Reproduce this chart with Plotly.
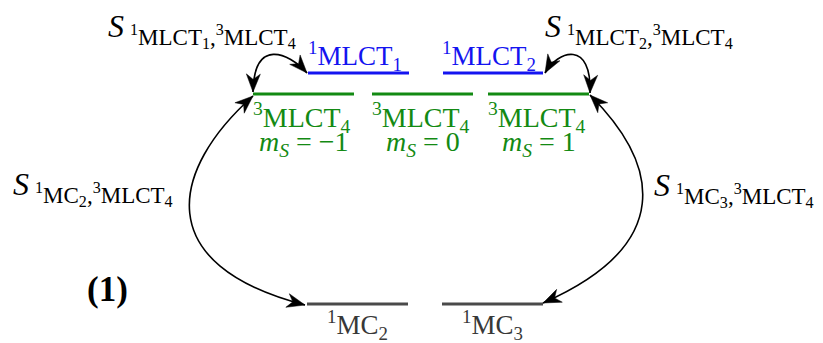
import numpy as np
import plotly.graph_objects as go

# ---------------- data ----------------
# energy levels (diagram units, y grows downward)
level_labels = ["<sup>1</sup>MLCT<sub>1</sub>", "<sup>1</sup>MLCT<sub>2</sub>",
                "<sup>3</sup>MLCT<sub>4</sub>", "<sup>3</sup>MLCT<sub>4</sub>", "<sup>3</sup>MLCT<sub>4</sub>",
                "<sup>1</sup>MC<sub>2</sub>", "<sup>1</sup>MC<sub>3</sub>"]
level_kind = ["singlet_mlct", "singlet_mlct", "triplet", "triplet", "triplet", "mc", "mc"]
level_x0 = [308, 443, 253, 372, 488, 307, 442]
level_x1 = [409, 543, 354, 473, 589, 408, 543]
level_y = [73, 73, 94, 94, 94, 304, 304]
spin_labels = ["<i>m<sub>S</sub></i> = \u22121", "<i>m<sub>S</sub></i> = 0", "<i>m<sub>S</sub></i> = 1"]

# coupling labels S_{a,b}
coupling_subs = ["<sup>1</sup>MLCT<sub>1</sub>,<sup>3</sup>MLCT<sub>4</sub>",
                 "<sup>1</sup>MLCT<sub>2</sub>,<sup>3</sup>MLCT<sub>4</sub>",
                 "<sup>1</sup>MC<sub>2</sub>,<sup>3</sup>MLCT<sub>4</sub>",
                 "<sup>1</sup>MC<sub>3</sub>,<sup>3</sup>MLCT<sub>4</sub>"]
coupling_x = [108, 545, 13, 654]
coupling_base = [37, 37, 195, 196]

# curved coupling arrows (cubic Bezier control points), double-headed
arrow_P0 = [(253, 92), (590, 93), (253, 96), (590, 95)]
arrow_C1 = [(254, 38), (592, 40), (170, 170), (660, 165)]
arrow_C2 = [(288, 52), (558, 50), (150, 265), (675, 245)]
arrow_P3 = [(307, 73), (545, 73), (305, 305), (543, 303)]

panel_label = "<b>(1)</b>"

# ---------------- styles ----------------
colors = {"singlet_mlct": "#1414f0", "triplet": "#138a13", "mc": "#4a4a4a"}
text_colors = {"singlet_mlct": "#1414f0", "triplet": "#138a13", "mc": "#383838"}
label_size = {"singlet_mlct": 27, "triplet": 28, "mc": 27}
label_base = {"singlet_mlct": -8, "triplet": 33, "mc": 30}   # baseline offset from level
label_dx = {"singlet_mlct": -4, "triplet": -2, "mc": 0}
FONT = "Liberation Serif"
W, H = 823, 343
PAD = 8  # browser body margin
ASC, DESC = 0.891, 0.216


def center_from_baseline(base, size, sup=True, sub=True):
    top = (0.42 + 0.7 * ASC) * size if sup else ASC * size
    bot = (0.21 + 0.7 * DESC) * size if sub else DESC * size
    return base - (top - bot) / 2


annotations = []


def put(x, y, text, size, color, xanchor="center"):
    annotations.append(dict(x=x, y=y, text=text, showarrow=False, xref="x", yref="y",
                            xanchor=xanchor, yanchor="middle", borderpad=0, borderwidth=0,
                            font=dict(family=FONT, size=size, color=color)))


fig = go.Figure()
shapes = []

# levels and their labels
for lab, kind, x0, x1, y in zip(level_labels, level_kind, level_x0, level_x1, level_y):
    fig.add_trace(go.Scatter(x=[x0, x1], y=[y, y], mode="lines",
                             line=dict(color=colors[kind], width=3), hoverinfo="skip",
                             showlegend=False))
    s = label_size[kind]
    put((x0 + x1) / 2 + label_dx[kind], center_from_baseline(y + label_base[kind], s),
        lab, s, text_colors[kind])

# spin labels under triplets
trip = [i for i, k in enumerate(level_kind) if k == "triplet"]
for lab, i in zip(spin_labels, trip):
    s = 28
    put((level_x0[i] + level_x1[i]) / 2, center_from_baseline(level_y[i] + 57, s, sup=False),
        lab, s, text_colors["triplet"])

# coupling labels
SS, SUB = 32, 23
for sub, x, base in zip(coupling_subs, coupling_x, coupling_base):
    put(x, center_from_baseline(base, SS, sup=False, sub=False), "<i>S</i>", SS, "black", "left")
    put(x + 22, center_from_baseline(base + 7, SUB), sub, SUB, "black", "left")

# panel label
put(107, center_from_baseline(301, 35, sup=False, sub=False), panel_label, 35, "black")


def head(tip, d, L=18, Wd=7):
    d = np.asarray(d, float)
    d = d / np.linalg.norm(d)
    n = np.array([-d[1], d[0]])
    t = np.asarray(tip, float)
    b1 = t - L * d + Wd * n
    b2 = t - L * d - Wd * n
    m = t - 0.7 * L * d
    return f"M {t[0]},{t[1]} L {b1[0]},{b1[1]} L {m[0]},{m[1]} L {b2[0]},{b2[1]} Z"


for P0, C1, C2, P3 in zip(arrow_P0, arrow_C1, arrow_C2, arrow_P3):
    path = f"M {P0[0]},{P0[1]} C {C1[0]},{C1[1]} {C2[0]},{C2[1]} {P3[0]},{P3[1]}"
    shapes.append(dict(type="path", path=path, xref="x", yref="y",
                       line=dict(color="black", width=1.6)))
    for tip, d in ((P0, np.subtract(P0, C1)), (P3, np.subtract(P3, C2))):
        shapes.append(dict(type="path", path=head(tip, d), xref="x", yref="y",
                           fillcolor="black", line=dict(color="black", width=0.5)))

fig.update_layout(
    width=W - PAD, height=H - PAD,
    margin=dict(l=0, r=0, t=0, b=0),
    paper_bgcolor="white", plot_bgcolor="white",
    xaxis=dict(range=[PAD, W], visible=False, fixedrange=True),
    yaxis=dict(range=[H, PAD], visible=False, fixedrange=True),
    shapes=shapes, annotations=annotations, showlegend=False,
)

fig.write_html("out.html")
